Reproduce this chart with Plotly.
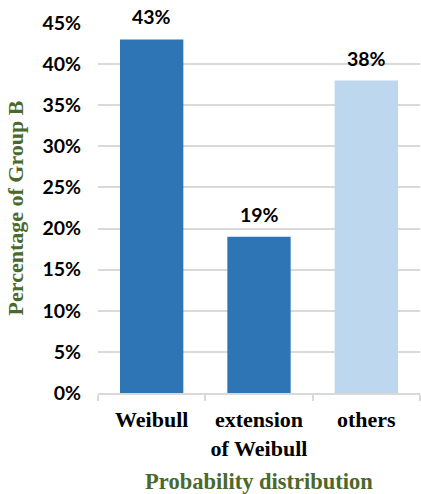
import plotly.graph_objects as go

categories = ["Weibull", "extension<br>of Weibull", "others"]
values = [0.43, 0.19, 0.38]
labels = ["43%", "19%", "38%"]
colors = ["#2E75B6", "#2E75B6", "#BDD7EE"]
y_ticks = [0, 0.05, 0.10, 0.15, 0.20, 0.25, 0.30, 0.35, 0.40, 0.45]
y_ticktext = ["0%", "5%", "10%", "15%", "20%", "25%", "30%", "35%", "40%", "45%"]

fig = go.Figure()
fig.add_trace(go.Bar(
    x=categories, y=values,
    marker=dict(color=colors, line=dict(width=0)),
    width=0.59,
))

for c, v, t in zip(categories, values, labels):
    fig.add_annotation(x=c, y=v, text=t, showarrow=False, yanchor="bottom", yshift=9,
                       font=dict(family="Lato", size=19.5, color="#000000", weight="bold"))

fig.update_layout(
    width=421, height=494,
    margin=dict(l=98, r=1, t=23, b=101),
    paper_bgcolor="white", plot_bgcolor="white",
    showlegend=False,
    xaxis=dict(
        showline=True, linecolor="#D9D9D9", linewidth=2,
        ticks="outside", tickson="boundaries", ticklen=6, tickcolor="#D9D9D9", tickwidth=2,
        tickangle=0, automargin=False,
        tickfont=dict(family="Liberation Serif", size=22, color="#000000", weight="bold"),
        ticklabelstandoff=6,
        title=dict(text="Probability distribution", standoff=14,
                   font=dict(family="Liberation Serif", size=22.5, color="#4A692B", weight="bold")),
    ),
    yaxis=dict(
        range=[0, 0.45], tickvals=y_ticks, ticktext=y_ticktext,
        showgrid=True, gridcolor="#D9D9D9", gridwidth=2,
        zeroline=False, showline=False, ticks="",
        automargin=False,
        tickfont=dict(family="Lato", size=19.5, color="#000000", weight="bold"),
        ticklabelstandoff=16,
        title=dict(text="Percentage of Group B", standoff=12,
                   font=dict(family="Liberation Serif", size=22, color="#4A692B", weight="bold")),
    ),
)

fig.write_html("out.html")
